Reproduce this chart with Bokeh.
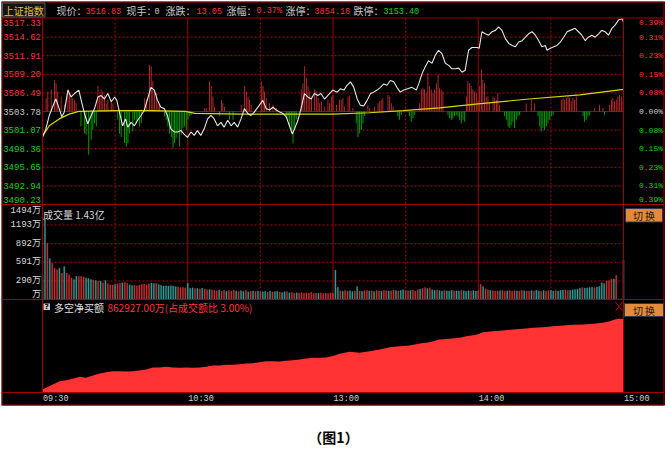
from bokeh.plotting import figure
from bokeh.models import Range1d, BoxAnnotation
from bokeh.core.properties import value
from bokeh.embed import file_html
from bokeh.resources import INLINE

# ---------------- data ----------------
prev_close = 3503.78
price_levels = [3517.33, 3514.62, 3511.91, 3509.20, 3506.49, 3503.78,
                3501.07, 3498.36, 3495.65, 3492.94, 3490.23]
pct_labels = ["0.39%", "0.31%", "0.23%", "0.15%", "0.08%", "0.00%",
              "0.08%", "0.15%", "0.23%", "0.31%", "0.39%"]
vol_ticks = [1494, 1193, 892, 591, 290, 0]
vol_tick_labels = ["1494万", "1193万", "892万", "591万", "290万", "万"]
time_ticks = [0, 60, 120, 180, 240]
time_labels = ["09:30", "10:30", "13:00", "14:00", "15:00"]
solid_vlines = [60, 120, 180]
dashed_vlines = [30, 90, 150, 210]
vol_grid = [290, 591, 892, 1193]

header_names = ["现价：", "现手：", "涨跌：", "涨幅：", "涨停：", "跌停："]
header_values = ["3516.83", "0", "13.05", "0.37%", "3854.16", "3153.40"]
vol_title = "成交量 1.43亿"
net_title = "多空净买额"
net_value_text = "862927.00万(占成交额比 3.00%)"

# minute index (0 = 09:30, 240 = 15:00) and index value of the white price line
price_t = [0, 1.4, 2.8, 4.1, 5.5, 6.9, 8.0, 9.0, 10.5, 11.8,
           13.2, 15.0, 16.0, 17.4, 18.7, 20.1, 21.5, 22.9, 24.2, 25.6,
           27.0, 28.4, 29.8, 30.7, 31.8, 33.1, 34.3, 35.2, 36.6, 38.0,
           39.3, 40.7, 42.0, 43.4, 44.8, 46.2, 47.5, 48.9, 50.3, 51.6,
           53.0, 54.4, 55.8, 57.2, 58.5, 59.9, 61.3, 62.7, 64.0, 65.4,
           66.8, 68.2, 69.6, 70.9, 72.3, 73.7, 75.0, 76.5, 77.9, 79.2,
           80.6, 82.0, 83.4, 84.8, 86.1, 87.5, 89.6, 91.0, 92.4, 93.8,
           95.2, 96.5, 98.0, 99.3, 100.7, 102.0, 103.2, 104.1, 105.5, 106.8,
           108.2, 109.6, 111.0, 112.3, 113.7, 115.0, 116.5, 117.8, 119.9, 121.7,
           123.1, 124.5, 125.8, 127.2, 128.6, 130.0, 131.3, 132.7, 134.1, 135.5,
           136.8, 138.2, 139.6, 141.0, 142.3, 143.7, 145.1, 146.4, 147.8, 149.2,
           150.8, 152.6, 154.4, 155.4, 156.8, 158.1, 159.5, 160.9, 162.3, 163.6,
           165.0, 166.4, 167.8, 169.1, 170.5, 171.9, 173.3, 174.6, 176.0, 177.4,
           179.5, 180.4, 181.5, 182.9, 184.3, 185.7, 187.1, 188.4, 189.8, 191.2,
           192.6, 194.0, 195.3, 196.7, 198.1, 199.5, 200.8, 202.2, 203.6, 205.0,
           206.3, 207.7, 208.4, 209.8, 211.2, 212.5, 213.9, 215.3, 216.7, 218.0,
           220.0, 221.4, 222.8, 224.2, 225.5, 226.9, 228.3, 229.7, 231.0, 232.4,
           233.8, 235.2, 236.6, 237.9, 239.3, 240.0]
price_v = [3500.03, 3501.25, 3503.20, 3504.40, 3505.60, 3504.20, 3503.00, 3503.70, 3506.90, 3505.90,
           3506.40, 3506.90, 3505.40, 3503.40, 3502.00, 3503.20, 3504.20, 3505.90, 3506.10, 3505.60,
           3506.40, 3505.20, 3505.90, 3505.40, 3503.70, 3501.70, 3502.70, 3501.50, 3502.20, 3501.70,
           3502.50, 3503.20, 3503.90, 3505.60, 3507.30, 3506.90, 3505.40, 3504.40, 3504.20, 3503.20,
           3501.25, 3500.80, 3500.80, 3501.00, 3500.50, 3500.00, 3500.80, 3500.30, 3501.00, 3500.30,
           3501.25, 3502.70, 3503.20, 3502.70, 3501.70, 3502.20, 3501.50, 3502.50, 3501.70, 3502.20,
           3501.50, 3502.70, 3504.20, 3503.50, 3503.20, 3503.70, 3504.70, 3505.40, 3504.20, 3504.00,
           3504.40, 3504.00, 3503.70, 3503.50, 3503.00, 3501.70, 3500.50, 3501.25, 3502.50, 3504.20,
           3506.40, 3505.90, 3505.60, 3506.40, 3506.10, 3506.40, 3505.60, 3506.10, 3506.90, 3506.60,
           3507.10, 3506.90, 3507.60, 3508.10, 3507.30, 3505.60, 3504.70, 3504.60, 3505.40, 3506.40,
           3506.60, 3506.90, 3507.30, 3507.80, 3507.60, 3508.30, 3508.10, 3507.30, 3506.60, 3506.90,
           3507.10, 3507.30, 3506.90, 3507.80, 3509.30, 3510.30, 3511.20, 3510.80, 3512.00, 3512.70,
           3512.20, 3510.80, 3510.50, 3510.00, 3510.00, 3510.10, 3509.50, 3509.80, 3512.70, 3513.10,
           3513.10, 3513.00, 3515.40, 3515.10, 3514.90, 3515.40, 3515.60, 3516.10, 3515.60, 3514.40,
           3513.70, 3513.40, 3513.20, 3513.90, 3514.10, 3514.60, 3515.10, 3515.40, 3514.90, 3514.10,
           3513.20, 3513.40, 3512.70, 3513.00, 3513.20, 3513.40, 3513.90, 3514.60, 3515.40, 3515.60,
           3515.90, 3515.40, 3514.90, 3514.10, 3514.60, 3514.90, 3514.60, 3515.10, 3515.60, 3515.40,
           3514.90, 3515.90, 3516.40, 3517.10, 3517.30, 3516.83]

# yellow average-price line
avg_t = [0, 2.8, 6.9, 11, 15, 30, 45, 59, 63, 82, 100, 120, 135, 149, 164, 180, 201, 222, 240]
avg_v = [3500.2, 3501.7, 3502.7, 3503.4, 3503.8, 3503.9, 3503.9, 3503.8, 3503.5, 3503.4,
         3503.4, 3503.4, 3503.6, 3503.9, 3504.3, 3504.9, 3505.6, 3506.2, 3507.0]

# red / green strength bars (index points above / below previous close)
bar_t = [1.5, 2.2, 3.6, 5.0, 5.6, 6.3, 7.7, 9.1, 10.5, 11.2,
         11.8, 12.5, 13.2, 13.9, 15.9, 17.4, 18.0, 19.1, 20.1, 20.8,
         21.5, 22.2, 22.9, 23.6, 24.2, 24.9, 25.6, 26.3, 27.0, 28.4,
         29.1, 31.1, 31.8, 32.5, 33.9, 34.6, 35.3, 36.0, 37.3, 38.0,
         38.7, 39.4, 40.1, 40.8, 42.2, 42.9, 44.2, 44.9, 45.6, 46.3,
         47.0, 47.7, 48.3, 50.4, 51.1, 51.8, 52.5, 53.2, 53.9, 54.5,
         55.2, 55.9, 56.6, 57.3, 58.0, 58.7, 59.4, 60.1, 60.8, 61.4,
         67.0, 67.6, 69.0, 69.7, 70.4, 71.1, 73.2, 73.9, 74.5, 75.2,
         77.3, 78.7, 82.1, 83.5, 84.2, 84.9, 85.5, 86.2, 90.4, 91.1,
         91.7, 92.4, 93.8, 95.2, 96.6, 100.7, 101.4, 102.1, 102.8, 103.5,
         104.2, 104.8, 106.9, 107.6, 108.3, 109.0, 109.7, 110.4, 111.1, 112.4,
         113.1, 113.8, 114.5, 115.2, 116.6, 117.9, 118.6,
         119.3, 120.0, 121.4, 122.7, 123.4, 124.1, 124.8, 126.2, 126.9, 128.2,
         129.6, 130.3, 131.0, 131.7, 132.4, 133.1, 134.4, 135.1, 137.2, 138.6,
         139.3, 139.9, 140.6, 142.7, 143.4, 144.1, 144.8, 146.8, 147.5, 148.2,
         151.6, 152.3, 153.0, 153.7, 155.8, 156.5, 157.2, 157.8, 158.5, 159.2,
         159.9, 160.6, 161.3, 162.0, 162.7, 163.4, 164.0, 164.7, 165.4, 167.5,
         168.2, 168.9, 169.5, 170.2, 170.9, 171.6, 172.3, 173.0, 173.7, 174.4,
         175.1, 175.7, 176.4, 177.1, 177.8, 178.5, 179.2, 179.9, 180.6, 181.3,
         181.9, 182.6, 183.3, 184.0, 184.7, 186.1, 186.8, 187.5, 188.1, 188.8,
         190.9, 191.6, 192.3, 193.0, 193.6, 194.3, 195.0, 195.7, 196.4, 197.1,
         199.8, 201.9, 203.3, 204.7, 205.4, 206.0, 206.7, 207.4, 208.1, 208.8,
         209.5, 210.2, 210.9, 214.3, 215.0, 215.7, 216.4, 217.1, 217.7, 218.4,
         219.1, 219.8, 220.5, 223.3, 223.9, 224.6, 225.3, 226.0, 228.1, 230.1,
         231.5, 232.2, 234.3, 235.0, 235.6, 236.3, 237.0, 237.7, 238.4, 239.1,
         239.8]
bar_v = [1.95, 2.9, 3.2, 4.6, 4.1, 2.9, 2.2, 1.0, 3.2, 2.7,
         2.2, 1.95, 1.7, 1.2, -2.2, -3.2, -3.4, -6.3, -4.1, -2.7,
         -1.7, -2.2, 3.7, 2.2, 3.2, 2.9, 2.4, 1.2, 1.7, 1.5,
         1.2, -1.2, -3.2, -3.7, -4.6, -5.1, -4.6, -3.2, -2.9, -1.2,
         -1.7, -1.2, -2.2, -1.7, 1.95, 1.7, 6.8, 6.6, 4.4, 3.2,
         2.7, 1.2, 1.0, -0.7, -1.2, -2.2, -3.2, -3.7, -5.4, -4.6,
         -3.9, -3.2, -5.1, -3.4, -2.4, -2.2, -2.7, -1.2, -0.7, -0.5,
         0.5, 0.5, 4.4, 3.7, 2.2, 0.7, -0.7, 1.7, 1.2, 0.7,
         -1.2, -1.2, 1.0, 3.7, 2.9, 2.2, 1.7, 1.0, 4.4, 3.7,
         2.9, 1.95, 1.2, 1.0, 0.5, -0.7, -1.2, -2.0, -2.7, -4.6,
         -2.7, -1.2, 3.2, 4.1, 6.6, 4.9, 3.7, 2.9, 2.2, 3.2,
         2.9, 1.95, 1.2, 1.5, 0.7, 1.7, 1.2,
         2.2, 2.4, 1.0, 1.7, 1.7, 1.95, 0.7, 2.2, 2.3, 0.5,
         -1.7, -3.7, -3.2, -2.7, -1.7, -0.7, 1.0, 0.5, 0.7, 1.2,
         1.5, 1.7, 1.95, 2.4, 2.2, 1.2, 0.7, -0.7, -1.2, -0.5,
         -0.7, -1.5, -1.0, -0.5, 1.2, 3.2, 3.4, 3.2, 2.7, 5.6,
         3.7, 3.2, 2.7, 3.2, 4.1, 5.4, 3.4, 3.2, 2.9, -0.5,
         -1.0, -1.2, -1.0, -0.7, -0.5, -0.7, -1.2, -1.7, -1.2, -1.5,
         2.2, 4.4, 4.1, 3.7, 3.2, 2.9, 2.7, 1.5, 3.7, 6.1,
         4.6, 4.1, 2.2, 2.2, 1.2, 2.2, 1.95, 1.7, 2.7, 1.0,
         -0.7, -1.2, -2.2, -2.4, -2.0, -1.5, -2.4, -1.2, -0.7, -0.5,
         1.2, 1.7, 1.2, -0.7, -2.2, -2.9, -2.4, -2.7, -2.2, -1.7,
         -1.2, -0.7, -0.5, 1.7, 1.95, 1.7, 1.95, 2.2, 1.95, 1.5,
         1.95, 1.7, 2.2, -0.7, -1.5, -1.2, -0.7, -0.5, 0.5, 1.0,
         0.5, -0.5, 1.0, 1.7, 1.95, 1.5, 1.7, 2.2, 2.4, 2.2,
         1.5]

# per-minute volume (万) and up/down flag (r = up, t = down)
volume = [366, 1290, 900, 655, 576, 497, 471, 497, 419, 523, 419, 393, 340, 314, 366, 366, 366, 355, 340, 330, 314, 305, 298, 288, 288, 262,
          298, 250, 230, 225, 235, 245, 253, 262, 270, 255, 230, 216, 220, 212, 225,
          237, 240, 230, 245, 258, 250, 253, 235, 220, 211,
          212, 210, 215, 208, 200, 195, 185, 190, 180, 253,
          174, 180, 170, 175, 165, 172, 160, 150, 155, 148,
          140, 135, 148, 130, 142, 125, 138, 130, 145, 128, 120, 135, 125, 140, 118, 125, 130, 122, 128, 120,
          118, 125, 110, 130, 115, 120, 125, 112, 105, 118, 122, 100, 110, 95, 102, 98, 105, 92, 100, 95,
          108, 90, 96, 92, 100, 88, 95, 90, 100, 98,
          464, 190, 132, 125, 140, 128, 135, 120, 130, 200, 130, 125, 135, 140, 128, 132, 120, 138, 130, 126,
          140, 135, 128, 132, 145, 136, 130, 142, 150, 138, 135, 140, 145, 130, 150, 160, 175, 184, 170, 180,
          150, 140, 145, 135, 130, 138, 132, 128, 140, 135, 130, 128, 140, 132, 126, 135, 130, 138, 128, 132,
          237, 200, 165, 150, 140, 135, 130, 128, 135, 140, 125, 132, 138, 128, 135, 130, 126, 140, 132, 128,
          130, 135, 128, 140, 132, 126, 138, 130, 135, 142, 128, 136, 130, 140, 145, 150, 138, 142, 148, 155,
          160, 172, 184, 178, 180, 186, 190, 184, 192, 200, 263, 250, 290, 300, 321, 321, 385, 0, 0, 628]
vol_updown = ("ttrtrrrtrtrrrttrrrtttrtrtr" "trrrtrrtrrttrrr" "rrrrttrttt" "tttttrrrrt" "ttrtrtrrtr"
              "rrtrrtrrrtrttrtrtrtr" "ttrtrttrttrtrrtrrrrrrrrtrrrrrr" "ttrtrrttrtrtrrtrtrrt"
              "rrtrrtrttrrtrrrtrrtr" "ttrttrtttrttrtttrttr" "rtrrtrrrtrrtrrrtrrtr"
              "rtrttrtrrttrtttrrttt" "ttrttttrtt" "ttrrrtrttt")

# 多空净买额 cumulative (万)
net_t = [0, 1.5, 4.3, 7, 9.8, 12.5, 15.3, 18, 20.8, 23.6,
         26.3, 29, 31.8, 34.6, 37.3, 40, 42.9, 45.6, 48.3, 51.1,
         53.8, 56.6, 59.4, 62.1, 64.9, 67.6, 70.4, 73.1, 75.9, 78.6,
         81.4, 84.2, 86.9, 89.7, 92.4, 95.2, 97.9, 100.7, 103.4, 106.2,
         109, 111.7, 114.5, 117.2, 120, 122.7, 126.9, 131, 135.1, 139.3,
         143.4, 147.5, 151.7, 155.8, 159.9, 164, 168.2, 172.3, 175.1, 179.2,
         182, 186.1, 190.2, 194.3, 198.5, 202.6, 206.7, 210.9, 215, 219.1,
         223.3, 227.4, 231.5, 234.3, 236.4, 238.4, 240]
net_v = [35000, 55000, 94000, 132000, 144000, 160000, 184000, 172000, 199000, 222000,
         238000, 249000, 249000, 246000, 249000, 258000, 269000, 293000, 293000, 301000,
         293000, 289000, 293000, 289000, 293000, 301000, 316000, 316000, 324000, 324000,
         331000, 340000, 343000, 355000, 366000, 366000, 363000, 371000, 378000, 386000,
         398000, 406000, 406000, 410000, 427000, 454000, 477000, 465000, 484000, 503000,
         530000, 542000, 550000, 574000, 589000, 621000, 629000, 640000, 659000, 676000,
         706000, 718000, 726000, 738000, 746000, 758000, 765000, 776000, 784000, 793000,
         796000, 804000, 816000, 835000, 855000, 863000, 862927]

# ---------------- layout helpers (page pixel -> data units) ----------------
K_X = (624 - 43) / 240.0
def mx(px):
    return (px - 43) / K_X

PY_TOP, PY_BOT = 19.0, 205.0
K_P = (PY_BOT - PY_TOP) / (price_levels[0] - price_levels[-1])
def py(pyv):
    return price_levels[0] + (PY_TOP - pyv) / K_P

VOL_ZERO, VOL_PER_PX = 299.5, 16.125
def vy(pyv):
    return (VOL_ZERO - pyv) * VOL_PER_PX

NET_ZERO, NET_PER_PX = 393.0, 11709.0
def ny(pyv):
    return (NET_ZERO - pyv) * NET_PER_PX

MONO = "Liberation Mono, Noto Sans CJK SC"
CJK = "Noto Sans CJK SC"
RED_T, GREEN_T, GRAY_T = "#FF3434", "#19D219", "#C8C8C8"
BORDER, GRIDC = "#A00000", "#B00000"

p = figure(width=664, height=444,
           x_range=Range1d(mx(2), mx(666)), y_range=Range1d(py(446), py(2)),
           x_axis_type=None, y_axis_type=None, toolbar_location=None,
           output_backend="svg", min_border=0,
           background_fill_color="white", border_fill_color="white",
           outline_line_color=None)
p.margin = (1, 0, 0, 1)
p.extra_y_ranges = {"vol": Range1d(vy(446), vy(2)), "net": Range1d(ny(446), ny(2))}

# black chart body
p.add_layout(BoxAnnotation(top=py(1), bottom=py(406), left=mx(1), right=mx(665.5),
                           fill_color="black", fill_alpha=1,
                           line_color=None, level="underlay"))

def seg(x0, y0, x1, y1, color=BORDER, dash="solid", yname="default", width=1):
    p.segment(x0=x0, y0=y0, x1=x1, y1=y1, line_color=color, line_dash=dash,
              line_width=width, y_range_name=yname)

# ---- grid ----
mid = [lv for lv in price_levels[1:-1] if lv != prev_close]
seg([0] * len(mid), mid, [240] * len(mid), mid, color=GRIDC, dash="2 2")
seg([0], [prev_close], [240], [prev_close], color=BORDER)
seg([0] * 4, vol_grid, [240] * 4, vol_grid, color=GRIDC, dash="2 2", yname="vol")
seg(dashed_vlines, [price_levels[0]] * 4, dashed_vlines, [py(300)] * 4, color=GRIDC, dash="2 2")
seg(solid_vlines, [price_levels[0]] * 3, solid_vlines, [py(300)] * 3, color=BORDER)

# ---- volume bars ----
minutes = list(range(len(volume)))
vcol = ["#C83232" if f == "r" else "#2E9E9A" for f in vol_updown]
p.vbar(x=minutes, bottom=0, top=volume, width=0.5, fill_color=vcol, line_color=vcol,
       line_width=0.3, y_range_name="vol")

# ---- strength bars ----
n = min(len(bar_t), len(bar_v))
btop = [prev_close + v for v in bar_v[:n]]
bcol = ["#C83030" if v > 0 else "#00B400" for v in bar_v[:n]]
p.vbar(x=bar_t[:n], bottom=prev_close, top=btop, width=0.35, fill_color=bcol,
       line_color=None)

# ---- lines ----
p.line(avg_t, avg_v, line_color="#D8D800", line_width=1.2)
p.line(price_t[:len(price_v)], price_v[:len(price_t)], line_color="#E6E6E6", line_width=1.1)

# ---- net buy area ----
p.varea(x=net_t, y1=0, y2=net_v, fill_color="#FF3333", y_range_name="net")

# ---- borders ----
for yy in [2.5, 18.5, 205, 300, 393, 405.5]:
    seg([mx(2)], [py(yy)], [mx(664.5)], [py(yy)])
seg([mx(2.5), mx(664.5)], [py(2.5)] * 2, [mx(2.5), mx(664.5)], [py(405.5)] * 2)
seg([0, 240], [py(18.5)] * 2, [0, 240], [py(393)] * 2)

# ---- texts ----
def txt(xs, ys, texts, color, size, font, align="left", baseline="middle",
        yname="default", yoff=0, xoff=0, style="normal"):
    p.text(x=xs, y=ys, text=texts, text_color=color, text_font=value(font),
           text_font_size="%gpx" % size, text_align=align, text_baseline=baseline,
           y_range_name=yname, y_offset=yoff, x_offset=xoff, text_font_style=style)

pcol = [RED_T if v > prev_close else (GREEN_T if v < prev_close else GRAY_T) for v in price_levels]
edge_off = [4] + [0] * 9 + [-5]
txt([mx(41.5)] * 11, price_levels, ["%.2f" % v for v in price_levels], pcol, 9, MONO,
    align="right", yoff=edge_off)
txt([mx(663.5)] * 11, price_levels, pct_labels, pcol, 8, MONO, align="right", yoff=edge_off)

txt([mx(41.5)] * 6, vol_ticks, vol_tick_labels, "#D8D8D8", 9, MONO, align="right",
    yname="vol", yoff=[5, 0, 0, 0, 0, -4.5])
txt([mx(43.5)], [vy(215)], [vol_title], "#D8D8D8", 10, CJK, yname="vol")

txt(time_ticks, [py(399.5)] * 5, time_labels, "#D0D0D0", 8.5, MONO, xoff=0.5)

# header
p.quad(left=[mx(3)], right=[mx(45.5)], top=[py(3.5)], bottom=[py(17.5)],
       fill_color="#141414", line_color="#5A5A5A")
txt([mx(24.2)], [py(11)], ["上证指数"], "#E6C040", 10, CJK, align="center")
name_x = [57, 127, 166, 227, 286, 354]
val_x = [86, 155, 197, 257, 315, 384]
val_col = [RED_T, GRAY_T, RED_T, RED_T, RED_T, GREEN_T]
txt([mx(v) for v in name_x], [py(11)] * 6, header_names, GRAY_T, 10, CJK)
txt([mx(v) for v in val_x], [py(11)] * 6, header_values, val_col, 8.5, MONO)

# net panel title
p.quad(left=[mx(44)], right=[mx(50.5)], top=[py(304)], bottom=[py(310.5)],
       fill_color="#C8C8C8", line_color=None)
txt([mx(47.3)], [py(307.5)], ["?"], "#000000", 7, "DejaVu Sans", align="center", style="bold")
txt([mx(54.5)], [py(307.5)], [net_title], "#E0E0E0", 10, CJK)
txt([mx(108)], [py(307.5)], [net_value_text], RED_T, 10, CJK)

# red close mark
seg([mx(616), mx(616)], [py(302.5), py(311.5)], [mx(623), mx(623)], [py(311.5), py(302.5)],
    color="#C00000")

# 切换 buttons
for (l, r, t, b) in [(626, 663, 209, 222.5), (625, 664, 304, 317)]:
    p.quad(left=[mx(l)], right=[mx(r)], top=[py(t)], bottom=[py(b)],
           fill_color="#E38B3B", line_color="#2E3552")
    txt([mx((l + r) / 2)], [py((t + b) / 2)], ["切 换"], "#2A1400", 10, CJK, align="center")

# caption
txt([mx(334)], [py(437)], ["（图1）"], "#000000", 14, CJK, align="center", style="bold")

open("out.html", "w").write(file_html(p, INLINE))
